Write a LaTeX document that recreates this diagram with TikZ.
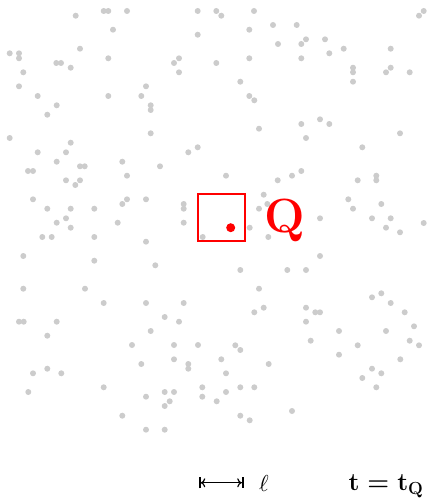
\RequirePackage{fix-cm}
\documentclass[tikz,border=0pt]{standalone}
\usepackage{graphicx}
\usetikzlibrary{arrows.meta}
\definecolor{dotgray}{RGB}{204,204,204}
\tikzset{
  pt/.style={fill=dotgray, draw=none},
  qbox/.style={draw=red, line width=2pt},
  measure/.style={line width=1.2pt, {Bar[width=11pt,line width=1.8pt]To[length=4.5pt,width=9pt]}-{To[length=4.5pt,width=9pt]Bar[width=11pt,line width=1.8pt]}}
}
\newcommand{\tqlabel}{\ensuremath{\mathbf{t}=\mathbf{t}_{\mathbf{Q}}}}
\begin{document}
\begin{tikzpicture}[x=1pt,y=-1pt]
\useasboundingbox (0,0) rectangle (427,500);
\foreach \a/\b in {
103.7/11,108.3/11,127/11,197.7/11,216.3/11,254/11,423.7/11,
75.7/15.7,221.3/15.7,419/15.7,
273/25,296.7/25,
113/29.7,249.3/29.7,
197.7/34.7,
306/39.3,325/39.3,
278/44,301.3/44,
80/48.7,343.7/48.7,390.7/48.7,
9.7/53.3,19/53.3,329.3/53.3,
19/58.3,108.3/58.3,179/58.3,249.3/58.3,301.3/58.3,
56.3/63,61/63,174/63,216.3/63,
70.7/67.7,353/67.7,390.7/67.7,
23.3/72.3,179/72.3,353/72.3,386/72.3,409.7/72.3,
240.3/81.7,353/81.7,
19/86.3,146/86.3,
37.7/96,108.3/96,141.3/96,249.3/96,
254.3/100.3,
56.7/105.3,150.7/105.3,
150.7/110,
47.3/114.7,
320/119.3,
301.3/124,329.3/124,
259/128.7,
150.7/133.3,400/133.3,
9.7/138,306/138,
70.7/142.7,
197.7/147.3,362.3/147.3,
37.7/152.3,66/152.3,188.3/152.3,
56.7/161.7,122.3/161.7,
80/166.3,84.7/166.3,160/166.3,
28/171,33/171,301.3/171,
127/175.7,226/175.7,292/175.7,376.3/175.7,
66/180.3,80/180.3,277.7/180.3,357.7/180.3,376.3/180.3,
75.3/185,
263.7/194.7,
33/199.3,127/199.3,146/199.3,348.3/199.3,
122.3/204,183.7/204,267.3/204,381.3/204,
47.3/208.7,70.7/208.7,94.3/208.7,183.7/208.7,259/208.7,353/208.7,
66/218.3,320/218.3,372/218.3,390.7/218.3,
56.7/222.7,117.7/222.7,183.7/222.7,423.7/223,
70.7/227.7,249.7/227.7,386/227.7,
400/232.3,
42.3/237,51.7/237,94.3/237,202.7/237,268.3/237,
146/241.7,
23.3/256,320/256,
94.3/260.7,
155.3/265.3,
240.3/270,287.3/270,306/270,
23.3/288.7,85/288.7,259/288.7,
381.3/293.3,
372/297.3,
103.7/303,146/303,183.7/303,390.7/303,
164.7/317,263.7/307.7,306/307.7,
254.3/312.3,315.3/312.3,320/312.3,404.7/312.3,
19/321.7,23.7/321.7,56.7/321.7,179/321.7,306/321.7,
414/326.3,
150.7/331,339/331,386/331,
47.3/335.7,
310.7/340.7,409.7/340.7,
132/345,174/345,198/345,235.3/345.3,357.7/345.3,419/345.3,
240.3/350,
339/354.7,
174/359.3,221.3/359.3,400.3/359.3,
141.3/364,188.3/364,268.7/364,
47.3/368.7,188.3/368.7,372/368.7,
33/373.3,61.3/373.3,226/373.3,381.3/373.3,
362.3/378,
103.7/387.3,202.3/387.3,240.3/387.3,254.3/387.3,376.3/387.3,
28.3/392,164.7/392,174/392,226/392,
146/396.7,202.3/396.7,
169.7/401.3,216.7/401.3,
164.7/406,
292/411,
122.3/415.7,240.3/415.7,
249.7/420.3,
146/429.7,164.7/429.7}
  \fill[pt] (\a,\b) circle (3);
% query box
\node[qbox, minimum width=47pt, minimum height=47pt, inner sep=0pt] (box) at (221.5,217.5) {};
\fill[red] (230.7,227.7) circle (4.5);
\node[red, anchor=base, inner sep=0pt, font=\fontsize{48}{48}\selectfont\bfseries] (Q) at (284.5,232) {Q};
% scale bar
\coordinate (la) at (199,482.8);
\coordinate (lb) at (243.5,482.8);
\draw[measure] (la) -- (lb);
\node[anchor=base, inner sep=0pt] (ell) at (264,491.5) {\resizebox{!}{16pt}{$\ell$}};
\node[anchor=base, inner sep=0pt, font=\fontsize{25}{25}\selectfont\boldmath] (tq) at (386,490.7) {\tqlabel};
\end{tikzpicture}
\end{document}
